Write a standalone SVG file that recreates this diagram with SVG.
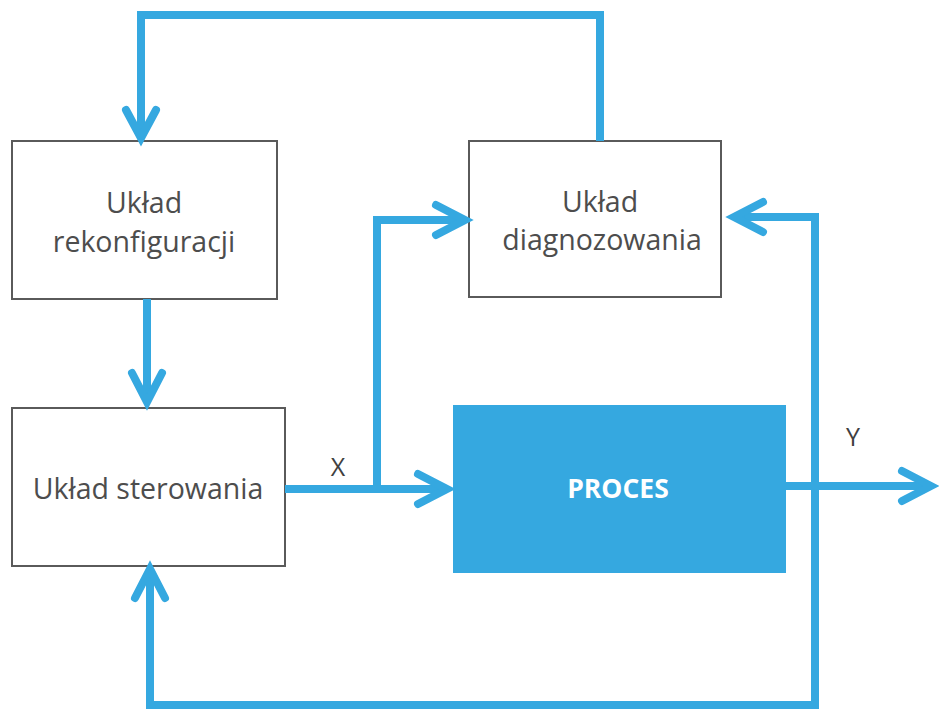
<svg xmlns="http://www.w3.org/2000/svg" width="939" height="711" viewBox="0 0 939 711">
<defs>
<style>
.box{fill:#ffffff;stroke:#5a5a5a;stroke-width:2}
.proc{fill:#35a8e0;stroke:none}
.lbl{font-family:"Open Sans","Liberation Sans",sans-serif;font-size:28.5px;fill:#4d4d4d;text-anchor:middle}
.bold{font-weight:bold;fill:#ffffff;font-size:26.5px}
.io{font-family:"Open Sans","Liberation Sans",sans-serif;font-size:25px;fill:#404040;text-anchor:middle}
.ln{fill:none;stroke:#35a8e0;stroke-width:8;stroke-linejoin:miter}
.ah{fill:none;stroke:#35a8e0;stroke-width:8;stroke-linecap:round;stroke-linejoin:miter}
</style>
</defs>
<rect width="939" height="711" fill="#ffffff"/>
<g id="rekonfiguracja">
<rect class="box" x="12" y="141" width="265" height="158"/>
<text class="lbl" x="144" y="213">Układ</text>
<text class="lbl" x="144" y="252">rekonfiguracji</text>
</g>
<g id="diagnozowanie">
<rect class="box" x="469" y="141" width="252" height="156"/>
<text class="lbl" x="600" y="212">Układ</text>
<text class="lbl" x="602" y="250">diagnozowania</text>
</g>
<g id="sterowanie">
<rect class="box" x="12" y="408" width="273" height="158"/>
<text class="lbl" x="148" y="499">Układ sterowania</text>
</g>
<g id="proces">
<rect class="proc" x="453" y="405" width="333" height="168"/>
<text class="lbl bold" x="618" y="498">PROCES</text>
</g>
<g id="connectors">
<polyline class="ln" points="600,141 600,15 141,15 141,138"/>
<polyline class="ah" points="126,110 141,138 156,110"/>
<line class="ln" x1="147" y1="299" x2="147" y2="402"/>
<polyline class="ah" points="132,373 147,402 162,373"/>
<line class="ln" x1="285" y1="489" x2="447" y2="489"/>
<polyline class="ah" points="418,474 447,489 418,504"/>
<polyline class="ln" points="377,489 377,220 465,220"/>
<polyline class="ah" points="436,205 465,220 436,235"/>
<line class="ln" x1="786" y1="486" x2="931" y2="486"/>
<polyline class="ah" points="902,471 931,486 902,501"/>
<polyline class="ln" points="150,569 150,705 815,705 815,217 734,217"/>
<polyline class="ah" points="763,202 734,217 763,232"/>
<polyline class="ah" points="135,598 150,569 165,598"/>
<text class="io" x="338" y="476">X</text>
<text class="io" x="853" y="446">Y</text>
</g>
</svg>
